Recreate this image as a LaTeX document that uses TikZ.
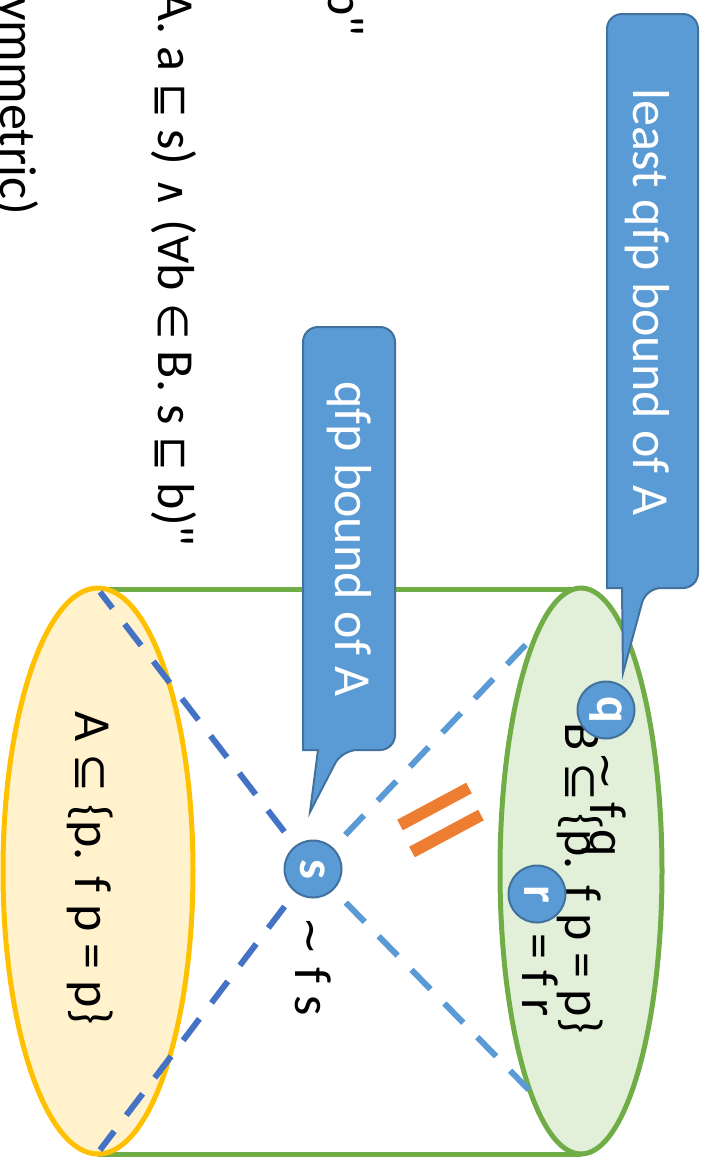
\documentclass[tikz,border=0pt]{standalone}
\usepackage{fontspec}
\setmainfont{Carlito}[Ligatures=TeXOff]
\newfontfamily\symfont{DejaVu Sans}[Scale=0.9]
\newfontfamily\symfontsm{DejaVu Sans}[Scale=0.8]
\newcommand\sy[1]{{\symfont #1}}
\newcommand\sym[1]{{\symfontsm #1}}
\definecolor{cblue}{HTML}{5B9BD5}
\definecolor{dblue}{HTML}{4472C4}
\definecolor{cedge}{HTML}{41719C}
\definecolor{cyellow}{HTML}{FFC000}
\definecolor{fyellow}{HTML}{FFF2CC}
\definecolor{cgreen}{HTML}{70AD47}
\definecolor{fgreen}{HTML}{E2F0D9}
\definecolor{corange}{HTML}{ED7D31}
\begin{document}
\begin{tikzpicture}[x=1pt,y=-1pt,
  txt/.style={rotate=-90, anchor=base, inner sep=0pt, font=\fontsize{52}{62}\selectfont},
  endtxt/.style={txt, anchor=base east},
  wtxt/.style={txt, text=white},
  ptmark/.style={circle, draw=cedge, line width=2pt, fill=cblue, minimum size=57pt,
    inner sep=0pt, text=white, rotate=-90, font=\bfseries\fontsize{50}{60}\selectfont},
  callout/.style={fill=cblue, draw=cedge, line width=2pt},
  rim/.style={line width=5pt},
  dashA/.style={draw=dblue, line width=6pt, dash pattern=on 27pt off 20pt},
  dashB/.style={draw=cblue, line width=6pt, dash pattern=on 27pt off 20pt},
  eqbar/.style={draw=corange, line width=12pt}]
\useasboundingbox (0,0) rectangle (708,1163);
\clip (0,0) rectangle (708,1163);

% text lines running off the top edge
\node[endtxt] (l1) at (328,37) {b"};
\node[endtxt] (l2) at (158,547) {A. a \sym{⊑} s) \sym{∧} (\sym{∀}b \sym{∈} B. s \sym{⊑} b)"};
\node[endtxt] (l3) at (0,215) {ymmetric)};

% cylinder body
\draw[rim, draw=cgreen] (98,589) -- (581,589);
\draw[rim, draw=cgreen] (98,1154) -- (581,1154);
\draw[rim, draw=cyellow, fill=fyellow] (98,871) ellipse [x radius=95pt, y radius=283pt];
\draw[rim, draw=cgreen, fill=fgreen] (581,871) ellipse [x radius=81pt, y radius=283pt];

% dashed diagonals through s
\coordinate (sc) at (313,869);
\coordinate (atop) at (100,592);
\coordinate (abot) at (100,1150);
\coordinate (btop) at (534,636);
\coordinate (bbot) at (529,1090);
\draw[dashA] (sc) -- (atop);
\draw[dashA] (sc) -- (abot);
\draw[dashB] (sc) -- (btop);
\draw[dashB] (sc) -- (bbot);

% equality sign
\draw[eqbar] (400,825) -- (469,788);
\draw[eqbar] (412,852) -- (481,815);

% set labels
\node[txt] (aset) at (75,868) {A \sy{⊆} \{p. f p = p\}};
\node[txt] (bset) at (565,878) {B \sy{⊆} \{p. f p = p\}};
\node[txt] (qrel) at (590,804) {\sy{∼} f q};
\node[txt] (rrel) at (522,975) {= f r};
\node[txt] (srel) at (295,966) {\sy{∼} f s};

% points
\node[ptmark] (s) at (sc) {s};
\node[ptmark] (q) at (606,710) {q};
\node[ptmark] (r) at (537,894) {r};

% callouts
\draw[callout] (395,540) [rounded corners=15pt] -- (395,750) -- (342,750)
  [sharp corners] -- (310,812) -- (318,750) -- (303,750)
  [rounded corners=15pt] -- (303,327) -- (395,327) -- cycle;
\node[wtxt] (qfp) at (335,539) {qfp bound of A};
\draw[callout] (698,300) [rounded corners=15pt] -- (698,588) -- (646,588)
  [sharp corners] -- (623,673) -- (622,588) -- (607,588)
  [rounded corners=15pt] -- (607,14) -- (698,14) -- cycle;
\node[wtxt] (lqfp) at (633,302) {least qfp bound of A};
\end{tikzpicture}
\end{document}
